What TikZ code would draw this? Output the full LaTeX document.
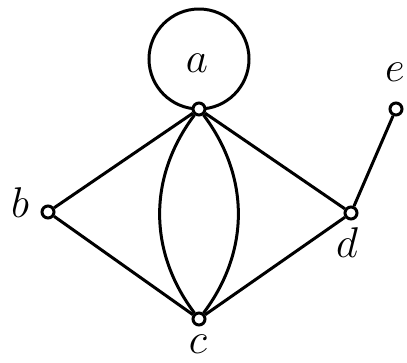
\documentclass[tikz,border=0pt]{standalone}
\usepackage{fix-cm}
\begin{document}
\begin{tikzpicture}[x=1pt,y=-1pt,
  vtx/.style={circle,draw,fill=white,line width=3pt,minimum size=12pt,inner sep=0pt},
  edge/.style={line width=3pt},
  lab/.style={inner sep=0pt,font=\fontsize{43}{43}\selectfont}]
\useasboundingbox (0,0) rectangle (407,362);
\coordinate (loopc) at (199,59);
\draw[edge] (loopc) circle (50);
\node[vtx] (a) at (199,109) {};
\node[vtx] (b) at (48,212) {};
\node[vtx] (c) at (199,319) {};
\node[vtx] (d) at (351,213) {};
\node[vtx] (e) at (396,109) {};
\draw[edge] (a) -- (b);
\draw[edge] (a) -- (d);
\draw[edge] (b) -- (c);
\draw[edge] (c) -- (d);
\draw[edge] (d) -- (e);
\draw[edge] (a) to[bend right=37] (c);
\draw[edge] (a) to[bend left=37] (c);
\node[lab] (la) at (197,63) {$a$};
\node[lab] (lb) at (20,203) {$b$};
\node[lab] (lc) at (198,344) {$c$};
\node[lab] (ld) at (347,243) {$d$};
\node[lab] (le) at (395,72) {$e$};
\end{tikzpicture}
\end{document}
